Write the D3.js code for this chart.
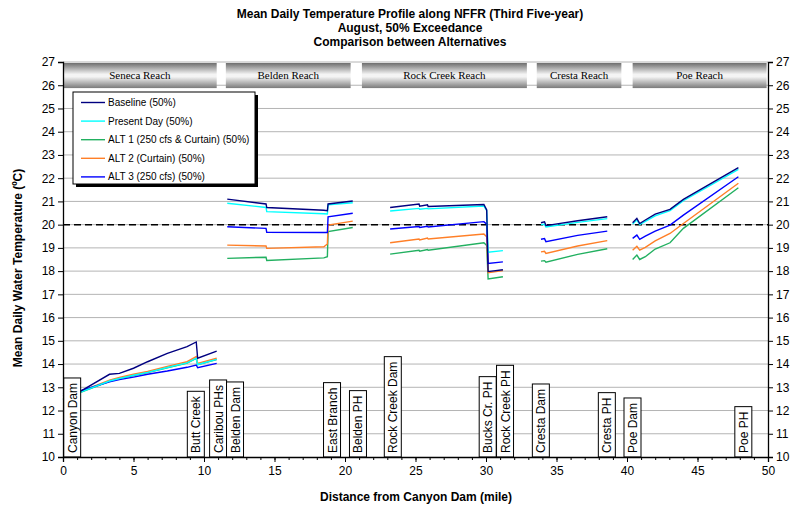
<!DOCTYPE html>
<html>
<head>
<meta charset="utf-8">
<script src="https://cdn.jsdelivr.net/npm/d3@7"></script>
<style>
  body { margin: 0; background: #fff; }
  text { font-family: Arial, "Liberation Sans", sans-serif; }
</style>
</head>
<body>
<div id="chart"></div>
<script>
// data
const seriesNames = ["Baseline (50%)", "Present Day (50%)", "ALT 1 (250 cfs & Curtain) (50%)", "ALT 2 (Curtain) (50%)", "ALT 3 (250 cfs) (50%)"];
const seriesColors = ["#000080", "#00ffff", "#22b060", "#ff7f27", "#0000ff"];

// reaches (start mile, end mile)
const reachNames = ["Seneca Reach", "Belden Reach", "Rock Creek Reach", "Cresta Reach", "Poe Reach"];
const reachStart = [0, 11.55, 21.2, 33.6, 40.4];
const reachEnd = [10.9, 20.4, 32.9, 39.6, 49.9];

// miles along each modelled segment
const miles1 = [0, 1.2, 3.3, 4.0, 5.0, 6.0, 7.4, 8.8, 9.45, 9.55, 10.9];
const miles2 = [11.65, 14.4, 14.45, 18.5, 18.75, 18.8, 20.55];
const miles3 = [23.2, 25.25, 25.3, 25.85, 25.9, 29.85, 30.05, 30.15, 31.2];
const miles4 = [33.9, 34.15, 34.25, 36.5, 38.6];
const miles5 = [40.4, 40.7, 40.9, 41.3, 42.0, 43.05, 44.0, 47.9];

const baseline = [
  [12.62, 12.81, 13.56, 13.6, 13.82, 14.1, 14.46, 14.75, 14.95, 14.25, 14.56],
  [21.1, 20.89, 20.74, 20.62, 20.6, 20.89, 21.02],
  [20.74, 20.89, 20.79, 20.85, 20.78, 20.87, 20.63, 17.98, 18.06],
  [20.08, 20.12, 19.96, 20.17, 20.34],
  [20.08, 20.27, 20.05, 20.2, 20.45, 20.66, 21.09, 22.45]
];
const presentDay = [
  [12.48, 12.78, 13.27, 13.38, 13.52, 13.64, 13.85, 14.05, 14.25, 13.98, 14.2],
  [20.92, 20.74, 20.56, 20.47, 20.46, 20.85, 20.94],
  [20.59, 20.7, 20.66, 20.7, 20.68, 20.8, 20.6, 18.81, 18.88],
  [20.0, 20.02, 19.9, 20.1, 20.26],
  [20.03, 20.2, 20.0, 20.14, 20.38, 20.6, 21.03, 22.38]
];
const alt1 = [
  [12.45, 12.77, 13.26, 13.37, 13.51, 13.63, 13.84, 14.04, 14.24, 13.97, 14.19],
  [18.55, 18.6, 18.46, 18.57, 18.62, 19.7, 19.88],
  [18.73, 18.9, 18.86, 18.93, 18.9, 19.22, 19.1, 17.66, 17.76],
  [18.43, 18.45, 18.38, 18.72, 18.96],
  [18.5, 18.69, 18.5, 18.62, 18.95, 19.22, 19.84, 21.59]
];
const alt2 = [
  [12.5, 12.81, 13.31, 13.42, 13.56, 13.68, 13.9, 14.1, 14.32, 14.03, 14.25],
  [19.12, 19.08, 18.98, 19.05, 19.17, 19.98, 20.15],
  [19.22, 19.38, 19.34, 19.42, 19.38, 19.6, 19.48, 17.93, 18.02],
  [18.83, 18.85, 18.76, 19.08, 19.31],
  [18.9, 19.07, 18.9, 19.02, 19.3, 19.62, 20.05, 21.78]
];
const alt3 = [
  [12.7, 12.84, 13.24, 13.33, 13.44, 13.56, 13.7, 13.86, 13.96, 13.84, 14.03],
  [19.91, 19.84, 19.67, 19.66, 19.66, 20.34, 20.49],
  [19.81, 19.92, 19.88, 19.93, 19.9, 20.13, 20.02, 18.33, 18.4],
  [19.37, 19.4, 19.27, 19.54, 19.72],
  [19.41, 19.55, 19.37, 19.51, 19.72, 19.98, 20.41, 22.06]
];

// landmarks along the river (mile)
const landmarkNames = ["Canyon Dam", "Butt Creek", "Caribou PHs", "Belden Dam", "East Branch", "Belden PH", "Rock Creek Dam", "Bucks Cr. PH", "Rock Creek PH", "Cresta Dam", "Cresta PH", "Poe Dam", "Poe PH"];
const landmarkMiles = [0.65, 9.42, 11.0, 12.2, 19.08, 20.92, 23.39, 30.12, 31.35, 33.89, 38.57, 40.39, 48.25];

const xTicks = [0, 5, 10, 15, 20, 25, 30, 35, 40, 45, 50];
const yTicks = d3.range(10, 28);
const threshold = 20;

function renderChart(containerId) {
  const width = 792;
  const height = 509;
  const margin = { top: 62, right: 24, bottom: 52, left: 63 };

  const svg = d3.select(containerId)
    .append("svg")
      .attr("width", width)
      .attr("height", height);

  const x = d3.scaleLinear().domain([0, 50]).range([margin.left, width - margin.right]);
  const y = d3.scaleLinear().domain([10, 27]).range([height - margin.bottom, margin.top]);

  // banner gradient
  const grad = svg.append("defs").append("linearGradient")
    .attr("id", "bannerGrad")
    .attr("x1", 0).attr("y1", 0).attr("x2", 0).attr("y2", 1);
  grad.append("stop").attr("offset", "0%").attr("stop-color", "#6e6e6e");
  grad.append("stop").attr("offset", "45%").attr("stop-color", "#f4f4f4");
  grad.append("stop").attr("offset", "55%").attr("stop-color", "#f4f4f4");
  grad.append("stop").attr("offset", "100%").attr("stop-color", "#7a7a7a");

  // gridlines
  svg.append("g")
    .selectAll("line")
    .data(yTicks.filter(d => d > 10))
    .join("line")
      .attr("x1", x(0)).attr("x2", x(50))
      .attr("y1", d => y(d)).attr("y2", d => y(d))
      .attr("stroke", "#b4b4b4")
      .attr("stroke-width", 1);

  // reach banners
  const banner = svg.append("g");
  reachNames.forEach((name, i) => {
    banner.append("rect")
      .attr("x", x(reachStart[i]))
      .attr("y", y(27) + 1)
      .attr("width", x(reachEnd[i]) - x(reachStart[i]))
      .attr("height", y(25.92) - y(27))
      .attr("fill", "url(#bannerGrad)");
    banner.append("text")
      .attr("x", (x(reachStart[i]) + x(reachEnd[i])) / 2)
      .attr("y", y(26.46) + 4)
      .attr("text-anchor", "middle")
      .style("font-family", "'Liberation Serif', 'Times New Roman', serif")
      .style("font-size", "11px")
      .text(name);
  });

  // 20 degree threshold
  svg.append("line")
    .attr("x1", x(0)).attr("x2", x(50))
    .attr("y1", y(threshold)).attr("y2", y(threshold))
    .attr("stroke", "#000")
    .attr("stroke-width", 1.5)
    .attr("stroke-dasharray", "7,4");

  // series lines, one path per segment
  const allSeries = [baseline, presentDay, alt1, alt2, alt3];
  const segMiles = [miles1, miles2, miles3, miles4, miles5];
  const line = d3.line().x(d => x(d[0])).y(d => y(d[1]));
  const drawOrder = [2, 3, 4, 1, 0];
  drawOrder.forEach(s => {
    segMiles.forEach((m, k) => {
      const pts = m.map((mi, j) => [mi, allSeries[s][k][j]]);
      svg.append("path")
        .datum(pts)
        .attr("d", line)
        .attr("fill", "none")
        .attr("stroke", seriesColors[s])
        .attr("stroke-width", 1.4);
    });
  });

  // landmark boxes
  const marks = svg.append("g");
  landmarkNames.forEach((name, i) => {
    const cx = x(landmarkMiles[i]);
    const g = marks.append("g");
    const t = g.append("text")
      .attr("transform", `translate(${cx + 4.5},${y(10) - 4}) rotate(-90)`)
      .style("font-size", "12px")
      .text(name);
    const len = t.node().getComputedTextLength();
    g.insert("rect", "text")
      .attr("x", cx - 8.5)
      .attr("y", y(10) - len - 9)
      .attr("width", 17)
      .attr("height", len + 9)
      .attr("fill", "#fff")
      .attr("stroke", "#000")
      .attr("stroke-width", 1);
  });

  // axes
  const left = svg.append("g")
    .attr("transform", `translate(${x(0)},0)`)
    .call(d3.axisLeft(y).tickValues(yTicks).tickSize(5).tickPadding(3).tickFormat(d3.format("d")));
  const right = svg.append("g")
    .attr("transform", `translate(${x(50)},0)`)
    .call(d3.axisRight(y).tickValues(yTicks).tickSize(5).tickPadding(3).tickFormat(d3.format("d")));
  const bottom = svg.append("g")
    .attr("transform", `translate(0,${y(10)})`)
    .call(d3.axisBottom(x).tickValues(xTicks).tickSize(5).tickPadding(4).tickFormat(d3.format("d")));
  svg.append("g")
    .attr("transform", `translate(0,${y(10)})`)
    .call(d3.axisBottom(x).tickValues(d3.range(0, 51)).tickSize(3).tickFormat(""))
    .select(".domain").remove();

  [left, right, bottom].forEach(a => {
    a.select(".domain").attr("stroke-width", 1.3);
    a.selectAll("text").style("font-size", "12px").attr("fill", "#000");
  });

  // legend
  const lg = svg.append("g").attr("transform", "translate(73,92)");
  lg.append("rect").attr("x", 3).attr("y", 3).attr("width", 182).attr("height", 92).attr("fill", "#000");
  lg.append("rect").attr("width", 182).attr("height", 92).attr("fill", "#fff").attr("stroke", "#000");
  seriesNames.forEach((name, i) => {
    const yy = 10.5 + i * 18.6;
    lg.append("line")
      .attr("x1", 8).attr("x2", 32)
      .attr("y1", yy).attr("y2", yy)
      .attr("stroke", seriesColors[i])
      .attr("stroke-width", 1.4);
    lg.append("text")
      .attr("x", 35).attr("y", yy + 3.5)
      .style("font-size", "10px")
      .text(name);
  });

  // titles
  const title = ["Mean Daily Temperature Profile along NFFR (Third Five-year)", "August, 50% Exceedance", "Comparison between Alternatives"];
  title.forEach((t, i) => {
    svg.append("text")
      .attr("x", 410).attr("y", 18 + i * 14)
      .attr("text-anchor", "middle")
      .style("font-size", "12px")
      .style("font-weight", "bold")
      .text(t);
  });

  svg.append("text")
    .attr("x", 416).attr("y", 501)
    .attr("text-anchor", "middle")
    .style("font-size", "12px")
    .style("font-weight", "bold")
    .text("Distance from Canyon Dam (mile)");

  svg.append("text")
    .attr("transform", "translate(22,268) rotate(-90)")
    .attr("text-anchor", "middle")
    .style("font-size", "12px")
    .style("font-weight", "bold")
    .text("Mean Daily Water Temperature (ºC)");
}

renderChart("#chart");
</script>
</body>
</html>
